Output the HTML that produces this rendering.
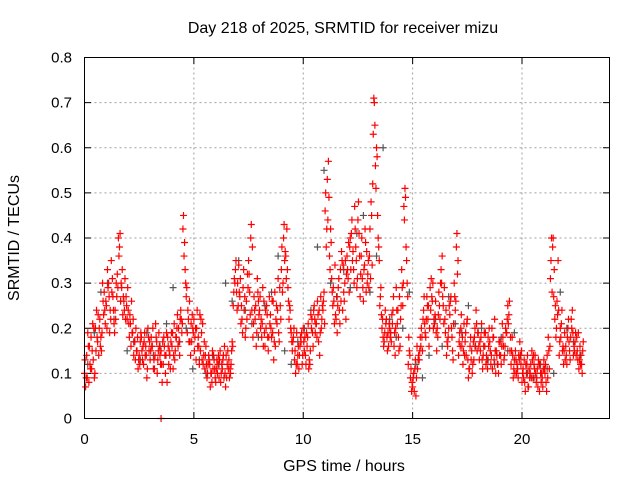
<!DOCTYPE html>
<html><head><meta charset="utf-8"><style>
body{margin:0;background:#fff}
svg{display:block;font-family:"Liberation Sans",sans-serif}
</style></head><body>
<svg id="chart" width="640" height="480">
<text x="343" y="33" font-size="16" text-anchor="middle">Day 218 of 2025, SRMTID for receiver mizu</text>
<text x="344" y="471" font-size="16" text-anchor="middle">GPS time / hours</text>
<text transform="translate(19,238) rotate(-90)" font-size="16" text-anchor="middle">SRMTID / TECUs</text>
<g id="grid"></g><g id="ticks"></g><g id="gray"></g><g id="red"></g>
<rect x="84.5" y="57.5" width="525" height="361" fill="none" stroke="#000"/>
</svg>
<script>
const xTicks=[0,5,10,15,20];
const yTicks=[0,0.1,0.2,0.3,0.4,0.5,0.6,0.7,0.8];
const yTickLabels=["0","0.1","0.2","0.3","0.4","0.5","0.6","0.7","0.8"];
const redA=[.10,.14,.08,.18,.13,.20,.17,.22,.19,.28,
.25,.30,.22,.27,.24,.32,.38,.29,.26,.27,
.24,.21,.19,.17,.15,.14,.18,.12,.16,.20,
.13,.16,.11,.17,.19,.15,.12,.10,.18,.14,
.16,.21,.18,.20,.24,.42,.33,.19,.26,.17,
.22,.13,.18,.15,.21,.11,.09,.13,.10,.14,
.08,.12,.15,.11,.16,.09,.13,.12,.25,.33,
.30,.27,.22,.24,.26,.35,.40,.18,.22,.31,
.24,.18,.26,.20,.15,.23,.19,.28,.21,.17,
.33,.40,.36,.29,.24,.15,.13,.19,.11,.17,
.20,.14,.18,.12,.22,.25,.21,.17,.27,.24,
.46,.53,.36,.31,.26,.22,.29,.33,.24,.30,
.36,.28,.41,.33,.38,.44,.27,.31,.34,.37,
.29,.48,.63,.56,.45,.25,.20,.17,.22,.16,
.19,.24,.14,.21,.27,.33,.47,.38,.12,.09,
.07,.11,.16,.13,.20,.24,.18,.22,.29,.26,
.21,.15,.28,.33,.25,.19,.16,.23,.18,.30,
.38,.14,.20,.12,.17,.22,.11,.15,.13,.24,
.19,.15,.11,.16,.13,.20,.14,.18,.10,.12,
.17,.21,.14,.19,.23,.12,.09,.15,.11,.17,
.08,.13,.10,.07,.12,.09,.14,.11,.06,.10,
.13,.08,.18,.31,.38,.22,.26,.14,.21,.12,
.16,.20,.13,.24,.15,.18,.11,.14,.17];
const redB=[.07,.19,.12,.15,.09,.24,.14,.18,.26,.21,
.33,.19,.28,.21,.30,.40,.26,.23,.31,.22,
.18,.26,.14,.20,.11,.17,.13,.19,.09,.15,
.18,.11,.21,.13,.14,.08,.16,.19,.12,.17,
.11,.15,.23,.14,.19,.36,.27,.22,.14,.20,
.18,.24,.12,.19,.14,.16,.12,.07,.15,.11,
.13,.09,.10,.14,.07,.15,.11,.17,.31,.28,
.34,.21,.29,.18,.32,.28,.24,.27,.16,.26,
.20,.29,.16,.23,.27,.18,.13,.22,.31,.25,
.28,.35,.42,.22,.19,.18,.10,.14,.16,.12,
.15,.19,.11,.23,.16,.19,.26,.14,.22,.28,
.38,.57,.42,.25,.34,.19,.24,.37,.28,.22,
.31,.40,.35,.47,.29,.41,.36,.26,.39,.32,
.42,.34,.70,.60,.38,.29,.18,.24,.15,.20,
.23,.16,.29,.18,.22,.25,.51,.30,.15,.06,
.10,.05,.13,.18,.15,.21,.27,.16,.31,.20,
.26,.18,.22,.36,.29,.14,.20,.27,.13,.24,
.32,.19,.16,.21,.14,.09,.18,.12,.20,.15,
.13,.21,.16,.12,.18,.15,.11,.22,.14,.17,
.12,.16,.20,.25,.15,.18,.13,.10,.14,.12,
.11,.06,.14,.09,.15,.12,.08,.13,.10,.07,
.10,.14,.11,.40,.27,.18,.35,.20,.15,.19,
.12,.17,.22,.14,.19,.13,.16,.10];
const redC=[.13,.09,.16,.11,.20,.15,.23,.16,.30,.24,
.20,.27,.35,.24,.22,.29,.41,.33,.24,.25,
.21,.16,.22,.13,.18,.12,.15,.17,.14,.18,
.15,.20,.14,.10,.16,.12,.18,.14,.16,.11,
.19,.13,.20,.17,.22,.45,.30,.24,.17,.23,
.15,.20,.16,.22,.12,.14,.10,.12,.08,.13,
.11,.14,.08,.13,.10,.12,.09,.15,.28,.35,
.25,.31,.19,.27,.22,.32,.43,.21,.25,.28,
.27,.21,.19,.25,.18,.20,.26,.16,.24,.29,
.38,.43,.31,.26,.20,.17,.15,.12,.14,.19,
.17,.12,.21,.15,.19,.22,.18,.24,.20,.26,
.50,.44,.33,.28,.21,.27,.31,.26,.34,.35,
.33,.38,.44,.30,.35,.48,.32,.29,.42,.30,
.36,.45,.71,.51,.40,.27,.22,.19,.18,.21,
.17,.27,.20,.24,.16,.29,.44,.35,.18,.11,
.09,.13,.11,.15,.18,.27,.22,.25,.24,.30,
.23,.20,.25,.30,.21,.24,.18,.26,.15,.27,
.41,.17,.23,.15,.19,.13,.16,.10,.18,.21,
.16,.18,.14,.19,.11,.17,.20,.13,.15,.10,
.14,.18,.16,.22,.26,.15,.11,.13,.09,.14,
.10,.08,.12,.11,.09,.14,.10,.07,.12,.09,
.11,.06,.15,.35,.40,.25,.23,.17,.24,.15,
.14,.22,.18,.19,.17,.15,.13,.12];
const redD=[.09,.16,.11,.21,.10,.18,.20,.15,.23,.26,
.29,.24,.31,.19,.27,.36,.30,.27,.22,.29,
.23,.19,.17,.15,.13,.19,.16,.14,.11,.17,
.16,.13,.18,.15,.12,.17,.14,.08,.15,.19,
.14,.18,.16,.22,.21,.39,.29,.17,.21,.19,
.20,.16,.23,.13,.17,.12,.14,.10,.11,.09,
.10,.13,.12,.09,.14,.11,.10,.16,.30,.24,
.28,.25,.33,.20,.29,.23,.38,.24,.19,.23,
.22,.16,.24,.18,.21,.26,.17,.25,.19,.22,
.30,.37,.33,.25,.17,.20,.12,.16,.18,.14,
.18,.16,.13,.20,.24,.21,.23,.19,.25,.21,
.42,.49,.39,.29,.23,.25,.21,.35,.26,.32,
.39,.33,.37,.42,.31,.36,.40,.33,.28,.35,
.31,.52,.65,.58,.35,.23,.16,.21,.19,.18,
.21,.19,.24,.15,.25,.30,.49,.27,.14,.08,
.06,.09,.14,.16,.22,.19,.25,.20,.27,.22,
.19,.23,.30,.27,.22,.17,.25,.20,.21,.26,
.35,.16,.18,.14,.21,.11,.13,.17,.16,.19,
.17,.13,.19,.14,.16,.12,.18,.15,.12,.14,
.16,.13,.19,.21,.18,.14,.10,.12,.13,.15,
.09,.12,.07,.10,.13,.11,.09,.12,.08,.11,
.12,.09,.16,.28,.33,.20,.24,.18,.16,.13,
.18,.15,.20,.16,.14,.19,.12,.15];
const grayV=[.12,.19,.28,.30,.22,.26,.15,.17,.13,.19,.14,.16,.21,.29,.17,.20,.11,.13,.10,.14,.12,.30,.26,.35,.24,.21,.18,.25,.28,.36,.15,.12,.17,.20,.24,.38,.55,.30,.27,.33,.29,.41,.45,.28,.36,.60,.22,.18,.20,.28,.12,.09,.14,.22,.16,.27,.21,.19,.25,.16,.20,.13,.12,.18,.15,.19,.14,.10,.09,.12,.11,.10,.28,.20,.17,.14];
const extraT=[3.5], extraV=[0];
const NS="http://www.w3.org/2000/svg";
const x=t=>84.5+t*(525/24);
const y=v=>418.5-v*(361/0.8);
function el(tag,attrs,parent){const e=document.createElementNS(NS,tag);for(const k in attrs)e.setAttribute(k,attrs[k]);parent.appendChild(e);return e;}
const grid=document.getElementById('grid'),ticks=document.getElementById('ticks');
xTicks.forEach(t=>{
  if(t>0){const g=el('line',{x1:x(t),x2:x(t),y1:57.5,y2:418.5,stroke:'#a0a0a0','stroke-dasharray':'2,3'},grid);
  
  }
  el('line',{x1:x(t),x2:x(t),y1:418.5,y2:412,stroke:'#000'},ticks);
  el('line',{x1:x(t),x2:x(t),y1:57.5,y2:64,stroke:'#000'},ticks);
  const l=el('text',{x:x(t),y:444,'font-size':15,'text-anchor':'middle'},ticks);l.textContent=t;
  
  
});
yTicks.forEach((v,i)=>{
  if(v>0&&v<0.8){const g=el('line',{x1:84.5,x2:609.5,y1:y(v),y2:y(v),stroke:'#a0a0a0','stroke-dasharray':'2,3'},grid);
  
  }
  el('line',{x1:84.5,x2:91,y1:y(v),y2:y(v),stroke:'#000'},ticks);
  el('line',{x1:603,x2:609.5,y1:y(v),y2:y(v),stroke:'#000'},ticks);
  const l=el('text',{x:72,y:y(v)+5,'font-size':15,'text-anchor':'end'},ticks);l.textContent=yTickLabels[i];
  
  
});
function plus(parent,t,v,col){
  const px=x(t),py=y(v);
  const p=el('path',{d:`M${px-3.5},${py}h7M${px},${py-3.5}v7`,stroke:col,'stroke-width':1.2,fill:'none'},parent);
  
  
}
const gG=document.getElementById('gray'),gR=document.getElementById('red');
grayV.forEach((v,i)=>plus(gG,0.15+0.3*i,v,'#555'));
redA.forEach((v,i)=>plus(gR,0.1*i,v,'#f00'));
redB.forEach((v,i)=>plus(gR,0.05+0.1*i,v,'#f00'));
redC.forEach((v,i)=>plus(gR,0.025+0.1*i,v,'#f00'));
redD.forEach((v,i)=>plus(gR,0.075+0.1*i,v,'#f00'));
extraT.forEach((t,i)=>plus(gR,t,extraV[i],'#f00'));
</script>
</body></html>
